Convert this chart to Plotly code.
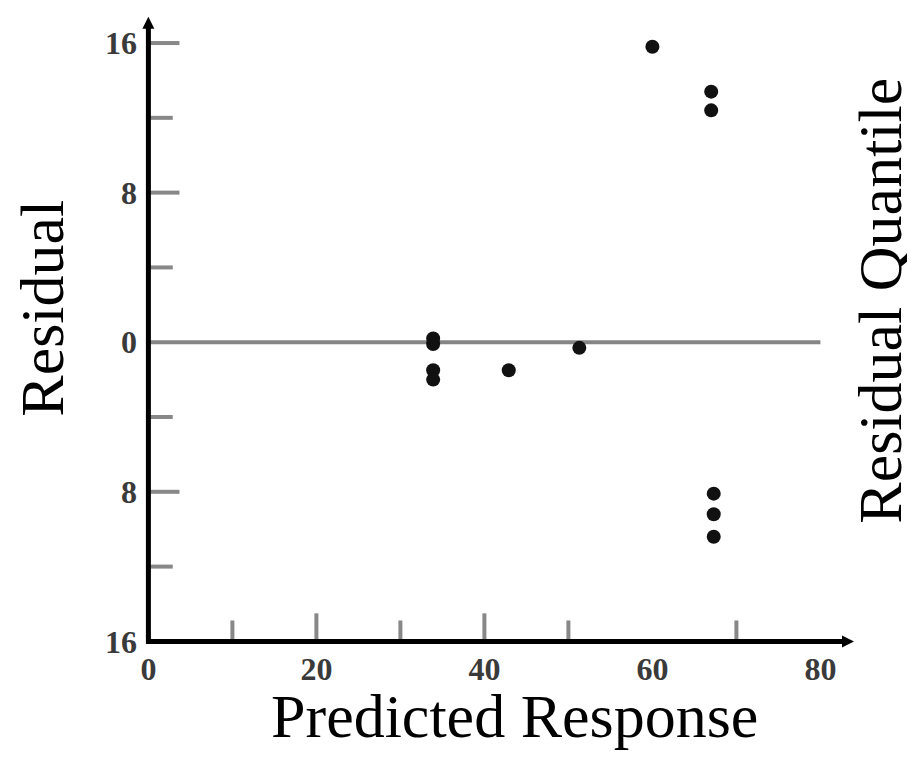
import plotly.graph_objects as go

# Data
pred_x = [60.0, 67.0, 67.0, 33.9, 33.9, 33.9, 33.9, 42.9, 51.3, 67.3, 67.3, 67.3]
resid_y = [15.8, 13.4, 12.4, 0.2, -0.1, -1.5, -2.0, -1.5, -0.3, -8.1, -9.2, -10.4]

x_tickvals = [0, 20, 40, 60, 80]
x_ticktext = ["0", "20", "40", "60", "80"]
y_tickvals = [16, 8, 0, -8, -16]
y_ticktext = ["16", "8", "0", "8", "16"]

x_major_marks = [20, 40]
x_minor_marks = [10, 30, 50, 70]
y_major_marks = [16, 8, -8]
y_minor_marks = [12, 4, -4, -12]

X_MIN, X_MAX = -1, 84
Y_MIN, Y_MAX = -16.3, 17.5
Y_AXIS_BOTTOM = -16

OFF = 8  # page body margin
W, H = 915 - 2 * OFF, 761 - 2 * OFF
ML, MT = 139.6 - OFF, 14.75 - OFF
MR = W - (853.6 - OFF)
MB = H - (646.8 - OFF)
PW = W - ML - MR
PH = H - MT - MB


def px(xp):
    return (xp - OFF - ML) / PW


def py(yp):
    return (H - MB - (yp - OFF)) / PH


fig = go.Figure()
fig.add_trace(go.Scatter(
    x=pred_x, y=resid_y, mode="markers",
    marker=dict(size=14, color="#111111"),
    showlegend=False, cliponaxis=False,
))

shapes = []
tick_gray = "#888888"
# zero reference line
shapes.append(dict(type="line", xref="x", yref="y", x0=0, x1=80, y0=0, y1=0,
                   line=dict(color="#858585", width=4), layer="below"))
# y ticks (inside, pointing right)
for v in y_major_marks:
    shapes.append(dict(type="line", xref="x", yref="y", x0=0, x1=3.7, y0=v, y1=v,
                       line=dict(color=tick_gray, width=4), layer="below"))
for v in y_minor_marks:
    shapes.append(dict(type="line", xref="x", yref="y", x0=0, x1=2.9, y0=v, y1=v,
                       line=dict(color=tick_gray, width=4), layer="below"))
# x ticks (inside, pointing up)
for v in x_major_marks:
    shapes.append(dict(type="line", xref="x", yref="y", x0=v, x1=v, y0=Y_AXIS_BOTTOM, y1=Y_AXIS_BOTTOM + 1.5,
                       line=dict(color=tick_gray, width=4), layer="below"))
for v in x_minor_marks:
    shapes.append(dict(type="line", xref="x", yref="y", x0=v, x1=v, y0=Y_AXIS_BOTTOM, y1=Y_AXIS_BOTTOM + 1.12,
                       line=dict(color=tick_gray, width=4), layer="below"))
# axis lines
shapes.append(dict(type="line", xref="x", yref="y", x0=-0.25, x1=83, y0=Y_AXIS_BOTTOM, y1=Y_AXIS_BOTTOM,
                   line=dict(color="black", width=5)))
shapes.append(dict(type="line", xref="x", yref="y", x0=0, x1=0, y0=Y_AXIS_BOTTOM - 0.13, y1=16.9,
                   line=dict(color="black", width=5)))

annotations = [
    # arrow heads
    dict(x=84, y=Y_AXIS_BOTTOM, ax=82.5, ay=Y_AXIS_BOTTOM, xref="x", yref="y", axref="x", ayref="y",
         showarrow=True, arrowhead=2, arrowsize=0.8, arrowwidth=3, arrowcolor="black", text=""),
    dict(x=0, y=17.4, ax=0, ay=16.5, xref="x", yref="y", axref="x", ayref="y",
         showarrow=True, arrowhead=2, arrowsize=0.8, arrowwidth=3, arrowcolor="black", text=""),
    # titles
    dict(text="Residual", x=px(42), y=py(308), xref="paper", yref="paper", showarrow=False,
         textangle=-90, xanchor="center", yanchor="middle",
         font=dict(family="Liberation Serif", size=62, color="black")),
    dict(text="Residual Quantile", x=px(880), y=py(300), xref="paper", yref="paper", showarrow=False,
         textangle=-90, xanchor="center", yanchor="middle",
         font=dict(family="Liberation Serif", size=62, color="black")),
    dict(text="Predicted Response", x=px(514), y=py(752), xref="paper", yref="paper", showarrow=False,
         xanchor="center", yanchor="bottom",
         font=dict(family="Liberation Serif", size=62, color="black")),
]

tick_font = dict(family="Liberation Serif", size=32, color="#3a3a3a", weight="bold")

fig.update_layout(
    width=W, height=H,
    margin=dict(l=ML, r=MR, t=MT, b=MB, pad=0),
    paper_bgcolor="white", plot_bgcolor="white",
    shapes=shapes, annotations=annotations,
    xaxis=dict(range=[X_MIN, X_MAX], tickvals=x_tickvals, ticktext=x_ticktext,
               showgrid=False, zeroline=False, showline=False, ticks="",
               tickfont=tick_font, ticklabelstandoff=0),
    yaxis=dict(range=[Y_MIN, Y_MAX], tickvals=y_tickvals, ticktext=y_ticktext,
               showgrid=False, zeroline=False, showline=False, ticks="",
               tickfont=tick_font, ticklabelstandoff=2),
)

fig.write_html("out.html")
